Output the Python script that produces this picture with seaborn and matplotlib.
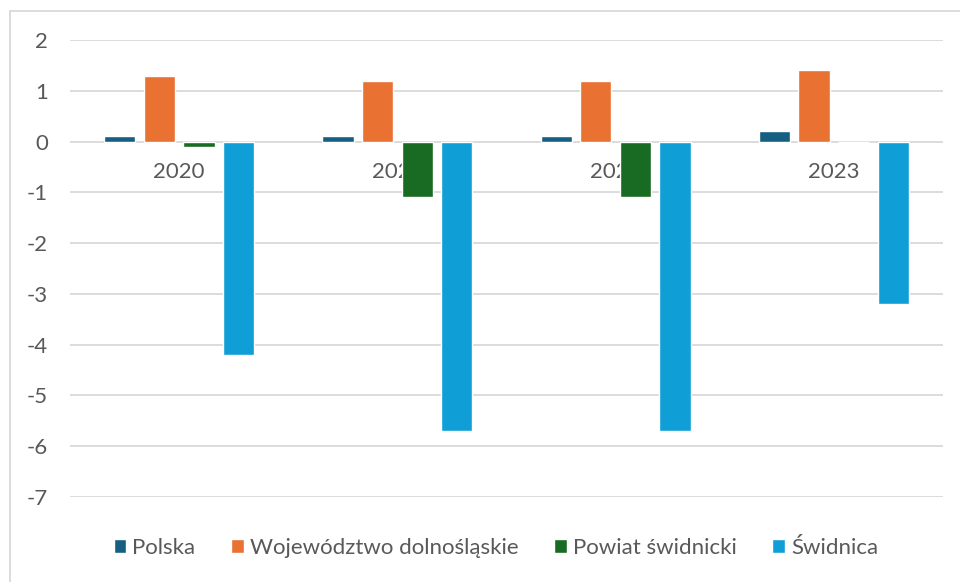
import numpy as np
import pandas as pd
import matplotlib
matplotlib.use('Agg')
import matplotlib.pyplot as plt
import seaborn as sns
from matplotlib.patches import Rectangle

years = ['2020', '2021', '2022', '2023']
series = ['Polska', 'Województwo dolnośląskie', 'Powiat świdnicki', 'Świdnica']
polska = [0.1, 0.1, 0.1, 0.2]
dolnoslaskie = [1.3, 1.2, 1.2, 1.4]
powiat = [-0.1, -1.1, -1.1, 0.0]
swidnica = [-4.2, -5.7, -5.7, -3.2]
colors = ['#156082', '#E97132', '#196B24', '#0F9ED5']

rows = []
for name, vals in zip(series, [polska, dolnoslaskie, powiat, swidnica]):
    for y, v in zip(years, vals):
        rows.append({'rok': y, 'seria': name, 'wartosc': v})
df = pd.DataFrame(rows)

sns.set_style('white')
plt.rcParams['font.family'] = ['Lato', 'DejaVu Sans']
plt.rcParams['axes.unicode_minus'] = False
txt = '#595959'

fig = plt.figure(figsize=(9.6, 5.82), dpi=100)
ax = fig.add_axes([70 / 960, 1 - 497 / 582, (943 - 70) / 960, (497 - 40) / 582])

sns.barplot(data=df, x='rok', y='wartosc', hue='seria', hue_order=series,
            palette=colors, width=0.725, gap=0.21, saturation=1,
            errorbar=None, ax=ax, legend=True)

ax.set_ylim(-7, 2)
ax.set_yticks(range(-7, 3))
ax.set_xlim(-0.5, 3.5)
ax.set_axisbelow(True)
ax.grid(axis='y', color='#D9D9D9', linewidth=1.3)
for s in ['top', 'right', 'left']:
    ax.spines[s].set_visible(False)
ax.spines['bottom'].set_position(('data', 0))
ax.spines['bottom'].set_visible(False)
ax.tick_params(axis='x', length=0, pad=15, labelsize=16, labelcolor=txt)
ax.tick_params(axis='y', length=0, pad=16, labelsize=16, labelcolor=txt)
ax.set_xlabel('')
ax.set_ylabel('')

handles, labels = ax.get_legend_handles_labels()
ax.legend(handles, labels, loc='center', bbox_to_anchor=(496 / 960, 1 - 548 / 582),
          bbox_transform=fig.transFigure, ncol=4, frameon=False,
          fontsize=16, labelcolor=txt, handlelength=0.58, handleheight=0.58,
          handletextpad=0.27, columnspacing=1.6)

fig.patches.append(Rectangle((10 / 960, -0.1), 1.2, 1.1 - 11 / 582,
                             transform=fig.transFigure, fill=False,
                             edgecolor='#D9D9D9', linewidth=1.3))

fig.savefig('out.png', dpi=100)
